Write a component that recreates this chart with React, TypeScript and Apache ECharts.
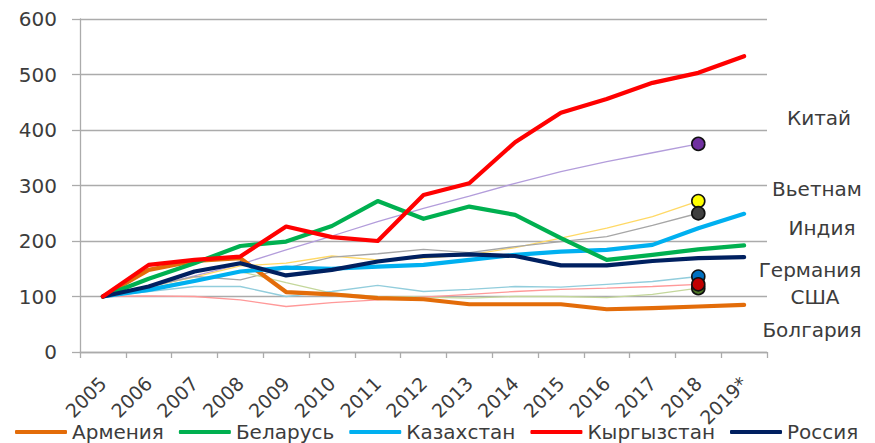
import React, { useEffect, useRef } from "react";
import * as echarts from "echarts";

const years = ["2005", "2006", "2007", "2008", "2009", "2010", "2011", "2012", "2013", "2014", "2015", "2016", "2017", "2018", "2019*"];

// thick lines (legend series)
const armenia = [100, 148, 164, 169, 108, 104, 97, 95, 86, 86, 86, 77, 79, 82, 85];
const belarus = [100, 132, 160, 191, 199, 227, 272, 240, 262, 247, 205, 166, 175, 185, 192];
const kazakhstan = [100, 112, 128, 145, 152, 150, 154, 157, 166, 175, 181, 184, 193, 223, 249];
const kyrgyzstan = [100, 157, 166, 172, 226, 207, 200, 283, 304, 378, 431, 456, 485, 503, 533];
const russia = [100, 118, 145, 160, 138, 148, 163, 173, 176, 173, 156, 156, 164, 169, 171];

// thin lines (2005–2018), marked at their last point
const china = [100, 117, 137, 158, 184, 209, 235, 259, 281, 304, 325, 343, 359, 375];
const vietnam = [100, 118, 135, 155, 160, 173, 166, 169, 175, 188, 205, 223, 244, 272];
const india = [100, 118, 136, 130, 151, 171, 177, 185, 179, 190, 199, 208, 228, 250];
const bulgaria = [100, 115, 130, 145, 125, 106, 100, 99, 97, 100, 100, 98, 104, 115];
const germany = [100, 109, 118, 118, 100, 109, 120, 109, 113, 118, 117, 122, 127, 136];
const usa = [100, 101, 100, 94, 82, 89, 94, 99, 104, 109, 113, 115, 118, 122];

const legendNames = ["Армения", "Беларусь", "Казахстан", "Кыргызстан", "Россия"];
const sideLabels = ["Китай", "Вьетнам", "Индия", "Германия", "США", "Болгария"];

const FONT = "DejaVu Sans";
const TEXT = "#3c3c3c";
const GRID = "#ababab";

export default function App() {
  const ref = useRef<HTMLDivElement>(null);

  useEffect(() => {
    const chart = echarts.init(ref.current!, null, { renderer: "svg" });

    const thin = (name: string, data: number[], lineColor: string, markColor: string, z: number) => ({
      name,
      type: "line",
      z,
      data: data.map((v, i) =>
        i === data.length - 1
          ? {
              value: v,
              symbol: "circle",
              symbolSize: 13,
              itemStyle: { color: markColor, borderColor: "#111", borderWidth: 1.6 },
            }
          : v
      ),
      symbol: "none",
      showSymbol: true,
      lineStyle: { color: lineColor, width: 1.3 },
      itemStyle: { color: markColor },
      silent: true,
    });

    const thick = (name: string, data: number[], color: string, z: number) => ({
      name,
      type: "line",
      z,
      data,
      symbol: "none",
      showSymbol: false,
      color,
      itemStyle: { color },
      lineStyle: { color, width: 4.2, cap: "round", join: "round" },
      silent: true,
    });

    const sidePos = [
      [819, 118],
      [817, 189],
      [822, 228],
      [810, 270],
      [815, 297],
      [812, 330],
    ];

    chart.setOption({
      animation: false,
      grid: { left: 80, right: 108, top: 19, bottom: 91, containLabel: false, outerBoundsMode: "none" },
      legend: {
        data: legendNames,
        left: 15,
        top: 422,
        width: 860,
        padding: 0,
        icon: "roundRect",
        itemWidth: 52,
        itemHeight: 4,
        itemGap: 15,
        textStyle: { fontFamily: FONT, fontSize: 20, color: TEXT },
      },
      xAxis: {
        type: "category",
        data: years,
        boundaryGap: true,
        axisLine: { show: true, lineStyle: { color: GRID, width: 1.3 } },
        axisTick: { show: true, alignWithLabel: false, length: 6, lineStyle: { color: GRID, width: 1.3 } },
        axisLabel: {
          interval: 0,
          rotate: 45,
          margin: 28,
          hideOverlap: false,
          fontFamily: FONT,
          fontSize: 19,
          color: TEXT,
        },
        splitLine: { show: false },
      },
      yAxis: {
        type: "value",
        min: 0,
        max: 600,
        interval: 100,
        axisLine: { show: true, lineStyle: { color: GRID, width: 1.3 } },
        axisTick: { show: true, length: 8, lineStyle: { color: GRID, width: 1.3 } },
        axisLabel: { margin: 23, fontFamily: FONT, fontSize: 20, color: TEXT },
        splitLine: { show: true, lineStyle: { color: GRID, width: 1.3 } },
      },
      graphic: sideLabels.map((t, i) => ({
        type: "text",
        x: sidePos[i][0],
        y: sidePos[i][1],
        style: {
          text: t,
          fontFamily: FONT,
          fontSize: 20,
          fill: TEXT,
          textAlign: "center",
          textVerticalAlign: "middle",
          textBaseline: "middle",
        },
      })),
      series: [
        thin("Китай", china, "#b39ddb", "#7030a0", 2),
        thin("Вьетнам", vietnam, "#ffd966", "#ffff00", 2),
        thin("Индия", india, "#a6a6a6", "#404040", 2),
        thin("Болгария", bulgaria, "#c4d79b", "#4f7a28", 2),
        thin("Германия", germany, "#92cddc", "#0070c0", 2),
        thin("США", usa, "#ff9999", "#c00000", 2),
        thick("Армения", armenia, "#e36c09", 3),
        thick("Казахстан", kazakhstan, "#00b0f0", 3),
        thick("Беларусь", belarus, "#00b050", 3),
        thick("Россия", russia, "#002060", 3),
        thick("Кыргызстан", kyrgyzstan, "#ff0000", 3),
      ],
    });

    return () => chart.dispose();
  }, []);

  return (
    <div
      ref={ref}
      style={{ position: "absolute", left: 0, top: 0, width: 875, height: 443, background: "#fff" }}
    />
  );
}
